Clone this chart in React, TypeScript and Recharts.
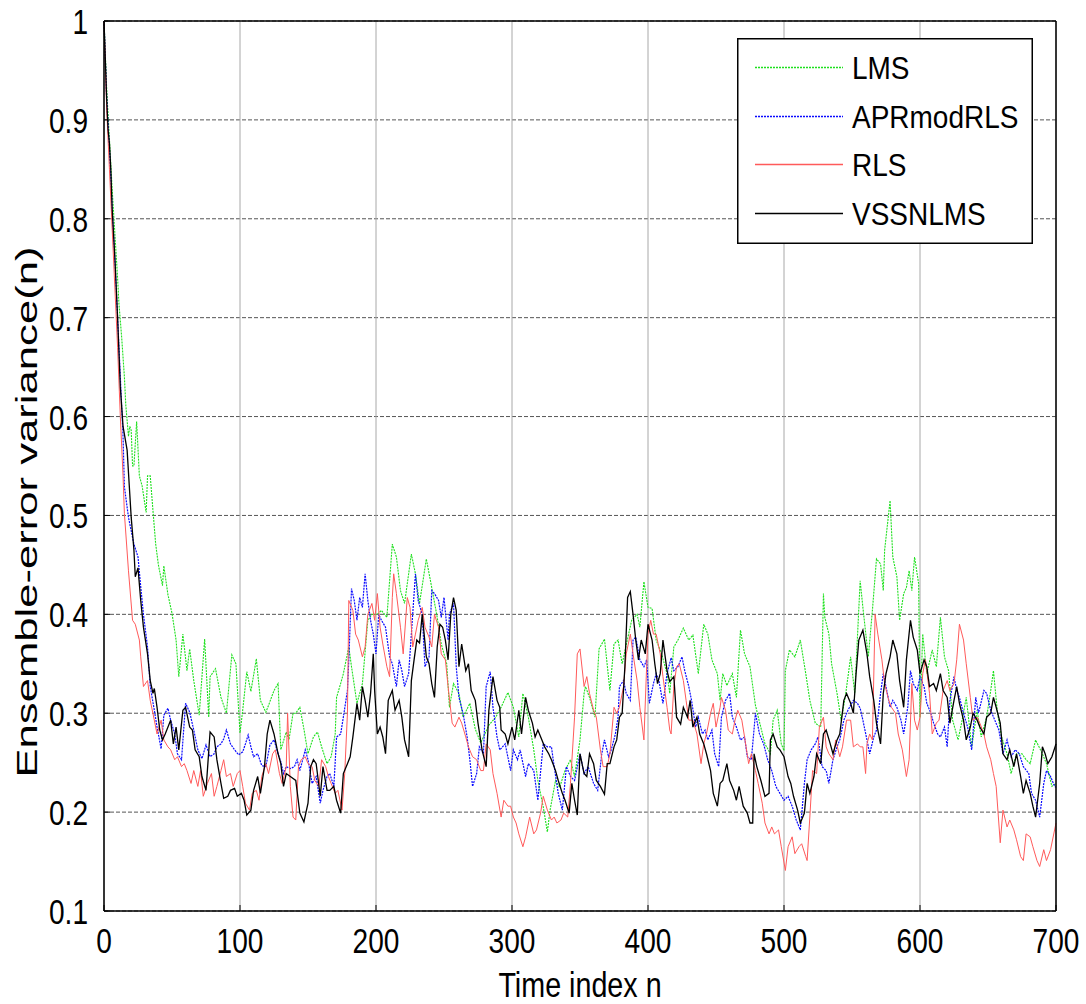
import React from 'react';
import {
  LineChart,
  Line,
  XAxis,
  YAxis,
  CartesianGrid,
  Legend,
  Label
} from 'recharts';

// axis ticks
const xTicks = [0, 100, 200, 300, 400, 500, 600, 700];
const yTicks = [0.1, 0.2, 0.3, 0.4, 0.5, 0.6, 0.7, 0.8, 0.9, 1];

// series as [n, value]
const lms: [number, number][] = [
  [0, 1.0], [1, 0.965], [2, 0.93], [4, 0.88], [6, 0.83], [8, 0.785], [10, 0.74], [11, 0.714], [13, 0.68], [15, 0.64],
  [16, 0.612], [18, 0.58], [19, 0.59], [20, 0.586], [21, 0.55], [22, 0.55], [24, 0.595], [26, 0.54], [28, 0.53], [31, 0.503],
  [32, 0.54], [34, 0.54], [36, 0.505], [38, 0.471], [40, 0.45], [43, 0.429], [44, 0.449], [47, 0.42], [50, 0.401], [53, 0.374],
  [55, 0.337], [58, 0.38], [61, 0.343], [63, 0.365], [66, 0.333], [70, 0.298], [74, 0.375], [77, 0.296], [78, 0.337], [82, 0.345],
  [86, 0.316], [90, 0.3], [94, 0.359], [97, 0.35], [100, 0.28], [102, 0.303], [105, 0.342], [108, 0.322], [112, 0.355], [115, 0.313],
  [119, 0.301], [121, 0.308], [125, 0.323], [128, 0.33], [130, 0.263], [134, 0.281], [136, 0.273], [139, 0.3], [141, 0.3], [144, 0.306],
  [147, 0.284], [150, 0.259], [154, 0.276], [157, 0.281], [160, 0.266], [164, 0.249], [167, 0.256], [170, 0.279], [171, 0.316], [174, 0.33],
  [176, 0.34], [180, 0.367], [182, 0.347], [186, 0.31], [190, 0.33], [194, 0.394], [197, 0.4], [201, 0.4], [204, 0.404], [208, 0.397],
  [212, 0.471], [215, 0.458], [218, 0.424], [221, 0.411], [226, 0.461], [229, 0.441], [232, 0.411], [237, 0.456], [241, 0.427], [245, 0.397],
  [248, 0.37], [252, 0.35], [254, 0.306], [257, 0.33], [261, 0.32], [264, 0.296], [269, 0.31], [273, 0.284], [277, 0.27], [283, 0.288],
  [288, 0.296], [292, 0.306], [297, 0.321], [301, 0.306], [305, 0.276], [308, 0.32], [312, 0.296], [316, 0.263], [319, 0.232], [323, 0.205],
  [326, 0.18], [328, 0.202], [332, 0.232], [335, 0.225], [339, 0.242], [343, 0.253], [346, 0.236], [350, 0.273], [353, 0.32], [354, 0.327],
  [357, 0.316], [361, 0.296], [364, 0.365], [368, 0.375], [372, 0.323], [375, 0.37], [378, 0.374], [381, 0.35], [384, 0.369], [388, 0.394],
  [392, 0.4], [394, 0.387], [397, 0.433], [400, 0.407], [403, 0.406], [406, 0.374], [410, 0.36], [414, 0.34], [416, 0.32], [419, 0.367],
  [422, 0.374], [426, 0.386], [430, 0.374], [433, 0.379], [437, 0.34], [441, 0.39], [444, 0.38], [447, 0.354], [451, 0.34], [453, 0.313],
  [455, 0.34], [458, 0.328], [462, 0.34], [465, 0.316], [468, 0.384], [471, 0.36], [475, 0.347], [479, 0.308], [482, 0.291], [486, 0.269],
  [490, 0.259], [492, 0.293], [495, 0.303], [498, 0.269], [500, 0.262], [501, 0.343], [504, 0.364], [508, 0.357], [512, 0.374], [516, 0.34],
  [519, 0.313], [523, 0.29], [527, 0.286], [529, 0.421], [530, 0.397], [533, 0.38], [535, 0.35], [539, 0.32], [542, 0.293], [545, 0.316],
  [549, 0.357], [552, 0.32], [556, 0.434], [558, 0.407], [562, 0.357], [565, 0.404], [568, 0.456], [571, 0.451], [573, 0.424], [574, 0.465],
  [578, 0.515], [580, 0.458], [583, 0.438], [585, 0.394], [588, 0.421], [590, 0.427], [592, 0.444], [594, 0.424], [596, 0.458], [599, 0.431],
  [600, 0.296], [602, 0.38], [605, 0.34], [609, 0.364], [612, 0.347], [615, 0.397], [618, 0.357], [621, 0.343], [624, 0.293], [628, 0.273],
  [631, 0.293], [634, 0.316], [638, 0.266], [642, 0.303], [645, 0.276], [649, 0.296], [652, 0.323], [654, 0.343], [657, 0.3], [660, 0.276],
  [664, 0.259], [667, 0.239], [671, 0.259], [675, 0.259], [678, 0.253], [681, 0.249], [685, 0.273], [690, 0.259], [693, 0.249], [697, 0.226],
  [700, 0.229]
];

const aprmodrls: [number, number][] = [
  [0, 1.0], [2, 0.92], [4, 0.87], [6, 0.81], [8, 0.76], [10, 0.7], [12, 0.64], [14, 0.58], [15, 0.529], [18, 0.498],
  [22, 0.471], [25, 0.458], [27, 0.428], [29, 0.4], [32, 0.367], [34, 0.327], [37, 0.303], [39, 0.286], [42, 0.264], [44, 0.298],
  [47, 0.305], [49, 0.293], [52, 0.279], [54, 0.259], [57, 0.253], [60, 0.31], [63, 0.301], [66, 0.283], [69, 0.263], [72, 0.254],
  [75, 0.268], [78, 0.256], [81, 0.259], [83, 0.266], [86, 0.269], [88, 0.274], [90, 0.283], [93, 0.269], [96, 0.263], [99, 0.258],
  [102, 0.261], [104, 0.269], [106, 0.278], [108, 0.266], [110, 0.256], [113, 0.259], [116, 0.247], [119, 0.246], [122, 0.268], [125, 0.273],
  [128, 0.259], [130, 0.251], [132, 0.239], [134, 0.246], [137, 0.244], [140, 0.246], [142, 0.253], [144, 0.242], [148, 0.263], [150, 0.253],
  [153, 0.229], [156, 0.236], [159, 0.209], [161, 0.222], [164, 0.236], [166, 0.239], [169, 0.226], [171, 0.276], [174, 0.279], [176, 0.296],
  [179, 0.323], [180, 0.354], [182, 0.426], [184, 0.414], [186, 0.394], [188, 0.417], [190, 0.407], [192, 0.441], [194, 0.414], [196, 0.394],
  [198, 0.38], [200, 0.36], [202, 0.4], [204, 0.394], [207, 0.387], [210, 0.357], [212, 0.35], [215, 0.327], [217, 0.354], [219, 0.343],
  [221, 0.327], [224, 0.34], [226, 0.38], [229, 0.441], [231, 0.414], [234, 0.4], [236, 0.347], [239, 0.357], [241, 0.424], [243, 0.421],
  [246, 0.414], [248, 0.397], [250, 0.417], [253, 0.374], [254, 0.4], [257, 0.411], [259, 0.347], [261, 0.316], [264, 0.3], [267, 0.276],
  [269, 0.253], [271, 0.226], [274, 0.239], [276, 0.266], [279, 0.259], [281, 0.327], [284, 0.342], [286, 0.306], [289, 0.276], [291, 0.263],
  [295, 0.269], [299, 0.242], [301, 0.263], [304, 0.253], [306, 0.263], [310, 0.236], [312, 0.249], [316, 0.242], [319, 0.212], [323, 0.269],
  [326, 0.266], [329, 0.266], [331, 0.246], [334, 0.219], [337, 0.202], [340, 0.246], [343, 0.236], [346, 0.232], [350, 0.259], [353, 0.239],
  [356, 0.246], [360, 0.229], [363, 0.222], [366, 0.259], [368, 0.273], [371, 0.256], [373, 0.263], [376, 0.279], [378, 0.296], [379, 0.327],
  [382, 0.333], [384, 0.32], [387, 0.313], [389, 0.374], [391, 0.377], [394, 0.354], [397, 0.347], [399, 0.354], [401, 0.31], [404, 0.33],
  [406, 0.34], [408, 0.333], [411, 0.31], [414, 0.34], [417, 0.356], [419, 0.343], [422, 0.347], [425, 0.357], [427, 0.343], [430, 0.327],
  [432, 0.313], [435, 0.286], [437, 0.296], [440, 0.279], [442, 0.283], [444, 0.273], [447, 0.283], [449, 0.259], [452, 0.246], [454, 0.296],
  [457, 0.313], [460, 0.32], [462, 0.296], [465, 0.286], [468, 0.273], [471, 0.276], [473, 0.256], [476, 0.253], [479, 0.3], [482, 0.279],
  [485, 0.269], [488, 0.253], [491, 0.242], [494, 0.226], [497, 0.219], [500, 0.212], [503, 0.216], [506, 0.206], [509, 0.192], [512, 0.182],
  [515, 0.229], [517, 0.253], [520, 0.263], [523, 0.269], [525, 0.276], [528, 0.246], [531, 0.242], [533, 0.229], [536, 0.253], [539, 0.266],
  [541, 0.273], [544, 0.293], [547, 0.303], [551, 0.313], [554, 0.31], [556, 0.305], [558, 0.293], [561, 0.273], [563, 0.259], [566, 0.276],
  [568, 0.283], [571, 0.32], [573, 0.34], [576, 0.32], [578, 0.306], [580, 0.313], [583, 0.306], [586, 0.293], [588, 0.279], [591, 0.306],
  [593, 0.343], [595, 0.33], [598, 0.323], [600, 0.337], [603, 0.327], [605, 0.31], [608, 0.3], [610, 0.29], [613, 0.279], [615, 0.276],
  [618, 0.286], [620, 0.266], [622, 0.313], [625, 0.337], [627, 0.323], [629, 0.316], [632, 0.3], [635, 0.286], [638, 0.263], [641, 0.316],
  [643, 0.3], [647, 0.323], [649, 0.32], [652, 0.303], [655, 0.293], [658, 0.283], [661, 0.259], [664, 0.273], [667, 0.256], [670, 0.263],
  [673, 0.259], [676, 0.246], [680, 0.239], [682, 0.219], [685, 0.212], [688, 0.195], [691, 0.229], [693, 0.242], [696, 0.236], [699, 0.226],
  [700, 0.225]
];

const rls: [number, number][] = [
  [0, 1.0], [2, 0.91], [4, 0.85], [6, 0.79], [8, 0.73], [10, 0.67], [12, 0.6], [14, 0.54], [15, 0.502], [18, 0.444],
  [21, 0.394], [23, 0.39], [26, 0.374], [27, 0.357], [29, 0.327], [32, 0.333], [34, 0.313], [37, 0.293], [39, 0.279], [42, 0.293],
  [44, 0.273], [47, 0.266], [49, 0.263], [52, 0.253], [54, 0.256], [57, 0.246], [59, 0.249], [61, 0.242], [64, 0.229], [66, 0.242],
  [69, 0.226], [71, 0.242], [73, 0.216], [76, 0.229], [79, 0.239], [81, 0.216], [83, 0.226], [86, 0.242], [88, 0.253], [90, 0.236],
  [93, 0.239], [95, 0.226], [98, 0.239], [100, 0.242], [102, 0.226], [104, 0.209], [107, 0.202], [109, 0.219], [112, 0.222], [114, 0.212],
  [116, 0.236], [119, 0.249], [121, 0.239], [124, 0.259], [126, 0.263], [129, 0.239], [131, 0.229], [134, 0.246], [135, 0.3], [137, 0.226],
  [139, 0.195], [141, 0.192], [143, 0.246], [145, 0.253], [148, 0.256], [150, 0.249], [153, 0.246], [155, 0.232], [158, 0.226], [160, 0.253],
  [163, 0.246], [165, 0.236], [167, 0.229], [170, 0.219], [172, 0.222], [175, 0.202], [177, 0.239], [179, 0.3], [180, 0.414], [183, 0.404],
  [185, 0.38], [187, 0.374], [190, 0.357], [192, 0.367], [194, 0.4], [197, 0.411], [199, 0.394], [201, 0.421], [203, 0.387], [205, 0.37],
  [208, 0.347], [210, 0.337], [212, 0.417], [213, 0.441], [215, 0.421], [218, 0.387], [220, 0.36], [223, 0.417], [225, 0.407], [227, 0.367],
  [229, 0.38], [231, 0.394], [234, 0.407], [236, 0.387], [239, 0.377], [241, 0.367], [243, 0.4], [246, 0.387], [248, 0.36], [251, 0.354],
  [253, 0.327], [256, 0.29], [258, 0.286], [261, 0.296], [263, 0.29], [266, 0.276], [268, 0.266], [271, 0.256], [274, 0.253], [277, 0.242],
  [279, 0.242], [281, 0.269], [284, 0.263], [286, 0.239], [289, 0.219], [292, 0.195], [294, 0.212], [297, 0.206], [299, 0.206], [301, 0.195],
  [303, 0.189], [305, 0.178], [308, 0.165], [310, 0.175], [313, 0.195], [316, 0.178], [318, 0.182], [321, 0.199], [323, 0.216], [326, 0.202],
  [329, 0.192], [331, 0.195], [333, 0.189], [336, 0.192], [338, 0.199], [341, 0.195], [343, 0.229], [346, 0.296], [348, 0.36], [350, 0.365],
  [353, 0.327], [355, 0.337], [357, 0.32], [360, 0.303], [362, 0.296], [365, 0.263], [367, 0.246], [370, 0.246], [372, 0.259], [375, 0.306],
  [377, 0.3], [379, 0.306], [382, 0.327], [384, 0.36], [387, 0.38], [389, 0.36], [392, 0.333], [394, 0.306], [397, 0.273], [399, 0.347],
  [400, 0.38], [402, 0.394], [404, 0.38], [406, 0.38], [409, 0.36], [411, 0.337], [414, 0.306], [416, 0.283], [417, 0.279], [419, 0.327],
  [421, 0.347], [423, 0.35], [426, 0.333], [428, 0.313], [430, 0.293], [433, 0.293], [436, 0.279], [439, 0.249], [441, 0.269], [443, 0.279],
  [446, 0.3], [448, 0.31], [450, 0.286], [453, 0.306], [454, 0.316], [457, 0.303], [459, 0.283], [462, 0.279], [464, 0.293], [466, 0.303],
  [469, 0.293], [471, 0.276], [474, 0.249], [476, 0.259], [479, 0.242], [481, 0.229], [484, 0.209], [486, 0.189], [489, 0.178], [491, 0.185],
  [493, 0.178], [496, 0.182], [498, 0.165], [501, 0.141], [503, 0.165], [506, 0.175], [508, 0.158], [511, 0.165], [513, 0.168], [516, 0.155],
  [517, 0.151], [519, 0.195], [521, 0.242], [524, 0.239], [526, 0.286], [529, 0.296], [531, 0.266], [533, 0.259], [536, 0.253], [538, 0.273],
  [541, 0.256], [543, 0.266], [546, 0.293], [549, 0.293], [551, 0.266], [554, 0.269], [556, 0.266], [558, 0.266], [560, 0.239], [561, 0.269],
  [563, 0.279], [565, 0.273], [567, 0.4], [569, 0.38], [572, 0.354], [574, 0.33], [577, 0.313], [579, 0.306], [582, 0.3], [584, 0.279],
  [587, 0.263], [590, 0.236], [592, 0.253], [594, 0.33], [596, 0.293], [598, 0.283], [600, 0.296], [602, 0.34], [604, 0.354], [607, 0.32],
  [609, 0.279], [612, 0.29], [614, 0.293], [617, 0.323], [620, 0.333], [622, 0.323], [625, 0.33], [627, 0.354], [629, 0.39], [632, 0.374],
  [634, 0.35], [637, 0.316], [639, 0.293], [642, 0.296], [644, 0.29], [647, 0.279], [649, 0.266], [652, 0.253], [654, 0.239], [656, 0.226],
  [659, 0.169], [661, 0.202], [664, 0.185], [666, 0.192], [669, 0.182], [671, 0.172], [674, 0.155], [676, 0.151], [678, 0.178], [681, 0.175],
  [683, 0.165], [686, 0.151], [688, 0.145], [691, 0.162], [693, 0.151], [696, 0.162], [700, 0.189]
];

const vssnlms: [number, number][] = [
  [0, 1.0], [1, 0.96], [2, 0.92], [3, 0.89], [4, 0.876], [5, 0.85], [6, 0.81], [8, 0.76], [10, 0.7], [12, 0.63],
  [14, 0.59], [17, 0.566], [20, 0.498], [22, 0.465], [23, 0.438], [25, 0.447], [27, 0.414], [29, 0.387], [32, 0.36], [34, 0.333],
  [36, 0.32], [37, 0.325], [39, 0.306], [41, 0.283], [43, 0.273], [45, 0.279], [49, 0.293], [51, 0.269], [53, 0.286], [55, 0.263],
  [58, 0.303], [60, 0.306], [63, 0.286], [65, 0.283], [67, 0.263], [70, 0.256], [72, 0.236], [75, 0.222], [78, 0.281], [81, 0.276],
  [83, 0.253], [86, 0.229], [88, 0.214], [91, 0.216], [93, 0.222], [96, 0.224], [98, 0.216], [101, 0.219], [103, 0.212], [105, 0.197],
  [108, 0.202], [110, 0.222], [113, 0.236], [115, 0.219], [118, 0.246], [120, 0.279], [122, 0.293], [125, 0.279], [128, 0.259], [130, 0.249],
  [132, 0.226], [134, 0.239], [137, 0.236], [141, 0.232], [144, 0.199], [147, 0.19], [150, 0.209], [152, 0.246], [154, 0.253], [156, 0.249],
  [159, 0.216], [161, 0.246], [164, 0.222], [166, 0.222], [169, 0.226], [171, 0.212], [174, 0.199], [176, 0.239], [179, 0.249], [181, 0.256],
  [183, 0.276], [186, 0.31], [188, 0.293], [190, 0.327], [192, 0.313], [194, 0.296], [196, 0.32], [198, 0.36], [199, 0.323], [201, 0.279],
  [203, 0.286], [205, 0.276], [207, 0.259], [209, 0.313], [212, 0.323], [214, 0.303], [217, 0.313], [219, 0.296], [221, 0.273], [224, 0.256],
  [226, 0.333], [228, 0.354], [230, 0.374], [232, 0.371], [234, 0.4], [237, 0.357], [239, 0.35], [241, 0.33], [243, 0.316], [245, 0.367],
  [247, 0.39], [249, 0.387], [251, 0.374], [253, 0.354], [255, 0.4], [257, 0.417], [259, 0.404], [261, 0.347], [263, 0.37], [266, 0.343],
  [268, 0.35], [270, 0.323], [273, 0.313], [275, 0.29], [278, 0.263], [281, 0.246], [283, 0.303], [286, 0.337], [289, 0.313], [291, 0.306],
  [292, 0.283], [295, 0.279], [297, 0.269], [300, 0.286], [302, 0.273], [305, 0.303], [307, 0.279], [310, 0.316], [312, 0.303], [315, 0.29],
  [317, 0.276], [319, 0.283], [322, 0.273], [324, 0.266], [327, 0.259], [329, 0.253], [332, 0.242], [334, 0.232], [337, 0.219], [339, 0.212],
  [342, 0.199], [344, 0.229], [346, 0.212], [348, 0.197], [350, 0.259], [353, 0.239], [355, 0.236], [357, 0.259], [360, 0.249], [362, 0.232],
  [365, 0.226], [368, 0.218], [370, 0.249], [372, 0.249], [375, 0.266], [377, 0.273], [379, 0.296], [381, 0.3], [383, 0.347], [385, 0.417],
  [387, 0.423], [389, 0.4], [391, 0.374], [393, 0.354], [395, 0.374], [398, 0.36], [400, 0.39], [403, 0.374], [405, 0.35], [407, 0.33],
  [409, 0.34], [411, 0.374], [414, 0.343], [416, 0.332], [419, 0.337], [421, 0.296], [424, 0.289], [426, 0.306], [429, 0.296], [431, 0.313],
  [433, 0.286], [436, 0.296], [438, 0.279], [441, 0.269], [443, 0.259], [446, 0.242], [448, 0.219], [451, 0.206], [453, 0.229], [455, 0.232],
  [458, 0.249], [460, 0.232], [463, 0.222], [465, 0.212], [467, 0.226], [470, 0.206], [473, 0.199], [475, 0.189], [477, 0.189], [478, 0.259],
  [480, 0.246], [483, 0.232], [486, 0.216], [489, 0.219], [490, 0.273], [492, 0.279], [495, 0.266], [497, 0.263], [500, 0.256], [503, 0.236],
  [505, 0.229], [507, 0.216], [510, 0.202], [512, 0.189], [515, 0.199], [517, 0.229], [519, 0.219], [522, 0.236], [524, 0.259], [527, 0.249],
  [529, 0.279], [531, 0.283], [534, 0.269], [536, 0.259], [539, 0.273], [541, 0.279], [544, 0.313], [546, 0.32], [549, 0.31], [551, 0.3],
  [553, 0.34], [555, 0.374], [558, 0.384], [561, 0.36], [563, 0.337], [566, 0.313], [568, 0.29], [571, 0.269], [573, 0.32], [575, 0.34],
  [578, 0.357], [580, 0.374], [583, 0.36], [585, 0.333], [588, 0.306], [590, 0.354], [593, 0.394], [595, 0.377], [598, 0.364], [600, 0.34],
  [603, 0.354], [605, 0.347], [607, 0.327], [610, 0.33], [612, 0.323], [615, 0.34], [617, 0.323], [620, 0.316], [622, 0.29], [625, 0.313],
  [627, 0.327], [629, 0.31], [632, 0.293], [634, 0.273], [637, 0.286], [639, 0.3], [642, 0.293], [644, 0.286], [647, 0.279], [649, 0.296],
  [652, 0.3], [654, 0.316], [656, 0.306], [659, 0.29], [661, 0.259], [664, 0.253], [666, 0.263], [669, 0.246], [671, 0.259], [674, 0.236],
  [676, 0.219], [678, 0.232], [681, 0.219], [683, 0.206], [685, 0.195], [688, 0.229], [690, 0.266], [692, 0.259], [694, 0.249], [697, 0.256],
  [700, 0.269]
];

const seriesNames = ['LMS', 'APRmodRLS', 'RLS', 'VSSNLMS'];

const FONT = '"Liberation Sans", Arial, Helvetica, sans-serif';

const series = [
  { name: seriesNames[0], data: lms, color: '#1ee01e', width: 1.1, dash: '2 1' },
  { name: seriesNames[1], data: aprmodrls, color: '#0a0aff', width: 1.2, dash: '2 1' },
  { name: seriesNames[2], data: rls, color: '#ff5a5a', width: 1, dash: undefined },
  { name: seriesNames[3], data: vssnlms, color: '#000000', width: 1.3, dash: undefined }
];

const toPoints = (arr: [number, number][]) => arr.map(([n, v]) => ({ n, v }));

const XTick = (props: any) => {
  const { x, y, payload } = props;
  return (
    <g transform={`translate(${x},${y}) scale(0.78,1)`}>
      <text x={0} y={0} dy="0.71em" textAnchor="middle" fontSize={36} fontFamily={FONT} fill="#000">
        {payload.value}
      </text>
    </g>
  );
};

const YTick = (props: any) => {
  const { x, y, payload } = props;
  return (
    <g transform={`translate(${x},${y}) scale(0.78,1)`}>
      <text x={0} y={0} dy="0.36em" textAnchor="end" fontSize={36} fontFamily={FONT} fill="#000">
        {String(payload.value)}
      </text>
    </g>
  );
};

const LegendBox = () => (
  <svg width={296} height={206} style={{ display: 'block' }}>
    <rect x={0.75} y={0.75} width={294.5} height={204.5} fill="#fff" stroke="#000" strokeWidth={1.5} />
    {series.map((s, i) => {
      const cy = Math.round(29 + i * 48.5) + 0.5;
      return (
        <g key={s.name}>
          <line x1={18} x2={106} y1={cy} y2={cy} stroke={s.color} strokeWidth={1.4} strokeDasharray={s.dash} />
          <g transform={`translate(115,${cy}) scale(0.875,1)`}>
            <text x={0} y={0} dy="0.36em" fontSize={32} fontFamily={FONT} fill="#000">
              {s.name}
            </text>
          </g>
        </g>
      );
    })}
  </svg>
);

const App: React.FC = () => {
  return (
    <div style={{ position: 'absolute', left: 0, top: 0, width: 1086, height: 1004, background: '#fff' }}>
      <LineChart width={1086} height={1004} margin={{ top: 20, right: 29, bottom: 0, left: 44 }}>
        <CartesianGrid xAxisId="b" yAxisId="l" horizontal={true} vertical={false} stroke="#555" strokeDasharray="4 2" />
        <CartesianGrid xAxisId="b" yAxisId="l" horizontal={false} vertical={true} stroke="#a8a8a8" />
        <XAxis
          xAxisId="b"
          type="number"
          dataKey="n"
          domain={[0, 700]}
          ticks={xTicks}
          height={93}
          tickSize={-6}
          tickMargin={22}
          tick={<XTick />}
          axisLine={{ stroke: '#000', strokeWidth: 1.5 }}
          tickLine={{ stroke: '#000' }}
        >
          <Label
            content={() => (
              <g transform="translate(580,997) scale(0.82,1)">
                <text x={0} y={0} textAnchor="middle" fontSize={35} fontFamily={FONT} fill="#000">
                  Time index n
                </text>
              </g>
            )}
          />
        </XAxis>
        <XAxis
          xAxisId="t"
          orientation="top"
          type="number"
          dataKey="n"
          domain={[0, 700]}
          ticks={xTicks}
          height={1}
          tickSize={-6}
          tick={false}
          axisLine={{ stroke: '#000', strokeWidth: 1.5 }}
          tickLine={{ stroke: '#000' }}
        />
        <YAxis
          yAxisId="l"
          type="number"
          domain={[0.1, 1]}
          ticks={yTicks}
          width={60}
          tickSize={-6}
          tickMargin={22}
          tick={<YTick />}
          axisLine={{ stroke: '#000', strokeWidth: 1.5 }}
          tickLine={{ stroke: '#000' }}
        >
          <Label
            content={() => (
              <text
                x={0}
                y={0}
                transform="translate(37,512) rotate(-90)"
                textAnchor="middle"
                fontSize={30}
                fontFamily={FONT}
                textLength={531}
                lengthAdjust="spacingAndGlyphs"
                fill="#000"
              >
                Ensemble-error variance(n)
              </text>
            )}
          />
        </YAxis>
        <YAxis
          yAxisId="r"
          orientation="right"
          type="number"
          domain={[0.1, 1]}
          ticks={yTicks}
          width={1}
          tickSize={-6}
          tick={false}
          axisLine={{ stroke: '#000', strokeWidth: 1.5 }}
          tickLine={{ stroke: '#000' }}
        />
        {series.map((s) => (
          <Line
            key={s.name}
            xAxisId="b"
            yAxisId="l"
            data={toPoints(s.data)}
            dataKey="v"
            name={s.name}
            type="linear"
            stroke={s.color}
            strokeWidth={s.width}
            strokeDasharray={s.dash}
            dot={false}
            activeDot={false}
            isAnimationActive={false}
          />
        ))}
        <Legend
          layout="vertical"
          align="center"
          verticalAlign="middle"
          content={() => <LegendBox />}
          wrapperStyle={{ left: 737, top: 38, width: 296, height: 206 }}
        />
      </LineChart>
    </div>
  );
};

export default App;
